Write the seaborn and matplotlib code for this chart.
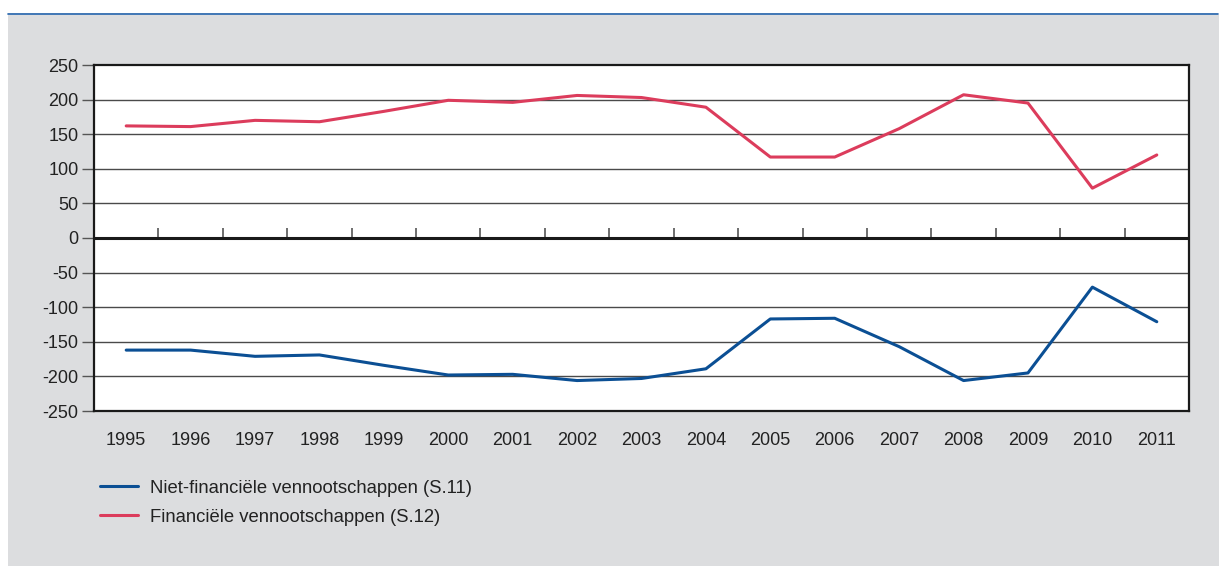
import numpy as np
import pandas as pd
import matplotlib
matplotlib.use("Agg")
import matplotlib.pyplot as plt
from matplotlib.lines import Line2D
from matplotlib.patches import Rectangle
import seaborn as sns

# Data: net lending (+) / borrowing (-) by sector, 1995-2011
years = ["1995", "1996", "1997", "1998", "1999", "2000", "2001", "2002", "2003",
         "2004", "2005", "2006", "2007", "2008", "2009", "2010", "2011"]
niet_financieel = [-162, -162, -171, -169, -184, -198, -197, -206, -203,
                   -189, -117, -116, -157, -206, -195, -71, -121]
financieel = [162, 161, 170, 168, 183, 199, 196, 206, 203,
              189, 117, 117, 158, 207, 195, 72, 120]
series_names = ["Niet-financiële vennootschappen (S.11)",
                "Financiële vennootschappen (S.12)"]
y_ticks = [250, 200, 150, 100, 50, 0, -50, -100, -150, -200, -250]

BLUE = "#0b4f94"
RED = "#dc3c5c"
PANEL = "#dcdddf"

sns.set_theme(style="white")
plt.rcParams["font.family"] = ["Liberation Sans", "DejaVu Sans"]

W, H = 1219, 566
fig = plt.figure(figsize=(W / 100, H / 100), dpi=100, facecolor="white")

# grey panel with a thin blue rule above it
fig.patches.append(Rectangle((8 / W, 0), (W - 8) / W, (H - 15) / H,
                             transform=fig.transFigure, facecolor=PANEL,
                             edgecolor="none", zorder=-5))
fig.lines.append(Line2D([8 / W, 1218 / W], [1 - 14 / H, 1 - 14 / H],
                        transform=fig.transFigure, color="#1f5fa8", lw=1.2,
                        zorder=-4))

ax = fig.add_axes([94 / W, 1 - 411 / H, (1189 - 94) / W, (411 - 65) / H])
ax.set_facecolor("white")

idx = np.arange(len(years))
df = pd.DataFrame({
    "x": np.concatenate([idx, idx]),
    "waarde": niet_financieel + financieel,
    "sector": [series_names[0]] * len(years) + [series_names[1]] * len(years),
})
sns.lineplot(data=df, x="x", y="waarde", hue="sector",
             palette={series_names[0]: BLUE, series_names[1]: RED},
             linewidth=2.2, ax=ax, legend=False, zorder=5)

ax.set_xlim(-0.5, len(years) - 0.5)
ax.set_ylim(-250, 250)
ax.set_yticks(y_ticks)
ax.set_yticklabels([str(v) for v in y_ticks])
ax.set_xticks(idx)
ax.set_xticklabels(years)
ax.set_xlabel("")
ax.set_ylabel("")

for v in y_ticks:
    if v in (250, -250, 0):
        continue
    ax.axhline(v, color="#4a4a4a", lw=1.0, zorder=1)
ax.axhline(0, color="#1a1a1a", lw=2.2, zorder=3)

# small upward ticks on the zero line between the years
ax.vlines(idx[:-1] + 0.5, 0, 14, color="#555555", lw=1.2, zorder=2)

for s in ax.spines.values():
    s.set_color("#1a1a1a")
    s.set_linewidth(1.6)
    s.set_visible(True)

ax.tick_params(axis="y", which="both", left=True, length=9, width=1.0,
               color="#555555", pad=2, labelsize=13, labelcolor="#222222")
ax.tick_params(axis="x", which="both", bottom=False, length=0, pad=15,
               labelsize=13, labelcolor="#222222")

handles = [Line2D([], [], color=BLUE, lw=2.2), Line2D([], [], color=RED, lw=2.2)]
fig.legend(handles, series_names, loc="upper left",
           bbox_to_anchor=(83 / W, 1 - 463 / H), frameon=False,
           fontsize=13.3, handlelength=2.1, handletextpad=0.65,
           labelspacing=0.65, labelcolor="#222222")

fig.savefig("out.png", dpi=100, facecolor="white")
